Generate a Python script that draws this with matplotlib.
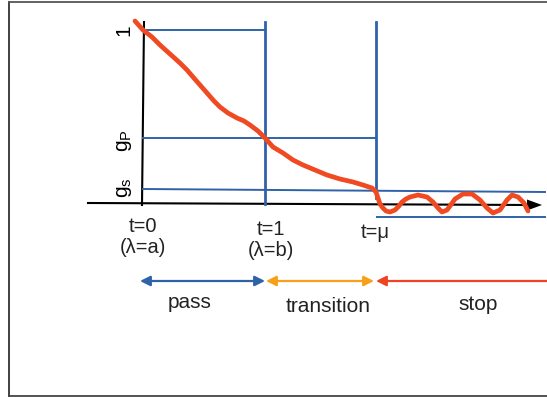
import matplotlib
matplotlib.use('Agg')
import matplotlib.pyplot as plt
import numpy as np

plt.rcParams['font.family'] = ['Liberation Sans', 'DejaVu Sans']

# ── DONNEES (coordonnées, en pixels) ──────────────────────────
curve_x = [135, 143, 152, 160, 170, 180, 187, 193, 200, 207, 214, 220, 228,
           237, 244, 250, 258, 265, 273, 283, 293, 303, 315, 327, 340, 353,
           363, 372, 376, 378, 380, 383, 386, 390, 395, 399, 402, 406, 410,
           418, 427, 433, 438, 442, 447, 450, 455, 463, 472, 480, 487, 493,
           500, 507, 512, 518, 524, 528]
curve_y = [21, 30, 37, 45, 54, 63, 70, 77, 85, 93, 101, 107, 113,
           118, 121, 125, 131, 138, 147, 153, 160, 165, 170, 175, 179, 182,
           185, 188, 192, 198, 204, 208, 211, 212, 210, 206, 202, 199, 197,
           195, 197, 202, 208, 212, 210, 206, 199, 194, 194, 200, 208, 213,
           210, 200, 195, 197, 203, 211]

# lignes bleues : (x0, y0, x1, y1)
blue_h = [(143, 30, 264, 30), (143, 138, 376, 138), (143, 189, 545, 192),
          (377, 217, 545, 217)]
blue_v = [(265, 22, 265, 204), (376, 22, 376, 198)]

tick_labels = ['1', r'$\mathregular{g_P}$', r'$\mathregular{g_s}$']
tick_y = [30, 141, 188]

t_labels = ['t=0\n(λ=a)', 't=1\n(λ=b)', 't=μ']
t_x = [143, 271, 375]
t_y = [237, 240, 233]

band_names = ['pass', 'transition', 'stop']
band_x0 = [140, 266, 376]
band_x1 = [265, 374, 547]
band_text_x = [190, 328, 478]
band_text_y = [303, 306, 304]
band_colors = ['#2F62A8', '#F7A11A', '#EF4423']

BLUE = '#2F62A8'
RED = '#F04A23'

fig = plt.figure(figsize=(5.47, 3.97), dpi=100)
ax = fig.add_axes([0, 0, 1, 1])
ax.set_xlim(0, 547)
ax.set_ylim(397, 0)
ax.axis('off')

# cadre
ax.plot([9, 9], [2, 396], color='#333333', lw=1.3)
ax.plot([9, 547], [2, 2], color='#555555', lw=1.3)
ax.plot([9, 547], [396, 396], color='#444444', lw=1.3)

# axes noirs
ax.plot([142, 144], [205, 22], color='black', lw=1.5)
ax.plot([88, 530], [203, 205], color='black', lw=1.5)
ax.fill([527, 542, 527], [199.5, 205, 210.5], color='black', lw=0)

# lignes bleues
for x0, y0, x1, y1 in blue_h:
    ax.plot([x0, x1], [y0, y1], color=BLUE, lw=1.4)
for x0, y0, x1, y1 in blue_v:
    ax.plot([x0, x1], [y0, y1], color=BLUE, lw=2.0)

# courbe rouge
ax.plot(curve_x, curve_y, color=RED, lw=3.4, solid_capstyle='round',
        solid_joinstyle='round')

# étiquettes verticales
for lab, y in zip(tick_labels, tick_y):
    ax.text(124, y, lab, rotation=90, ha='center', va='center', fontsize=15)

# étiquettes t
for lab, x, y in zip(t_labels, t_x, t_y):
    ax.text(x, y, lab, ha='center', va='center', fontsize=14.5, color='#222222',
            linespacing=1.15)

# flèches des bandes
for i, (x0, x1, c) in enumerate(zip(band_x0, band_x1, band_colors)):
    style = '<|-|>' if i < 2 else '-|>'
    ax.annotate('', xy=(x0, 281), xytext=(x1, 281),
                arrowprops=dict(arrowstyle=style + ',head_length=0.6,head_width=0.3',
                                color=c, lw=1.6, shrinkA=0, shrinkB=0))
for name, x, y in zip(band_names, band_text_x, band_text_y):
    ax.text(x, y, name, ha='center', va='center', fontsize=15, color='#222222')

plt.savefig('out.png', dpi=100)
plt.close()
